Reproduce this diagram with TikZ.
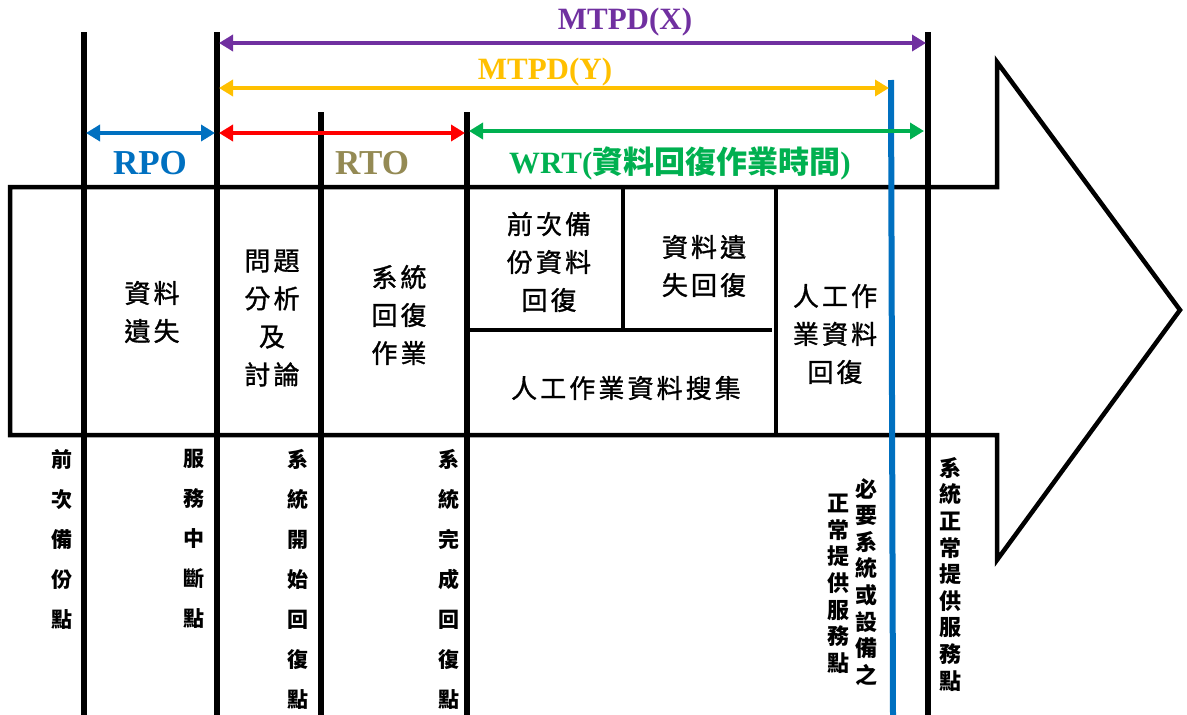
\documentclass[tikz,border=0pt]{standalone}
\usepackage{fontspec}
\setmainfont{Liberation Serif}
\newfontfamily\cjk{Noto Sans CJK TC}
\newfontfamily\cjksp{Noto Sans CJK TC}[LetterSpace=12, FakeBold=1.2]
\usetikzlibrary{arrows.meta}
\definecolor{cpurple}{HTML}{7030A0}
\definecolor{cyellow}{HTML}{FFC000}
\definecolor{cblue}{HTML}{0070C0}
\definecolor{cred}{HTML}{FF0000}
\definecolor{cgreen}{HTML}{00B050}
\definecolor{colive}{HTML}{948A54}
\begin{document}
\begin{tikzpicture}[x=1pt,y=-1pt,
  vline/.style={line width=6pt},
  boxline/.style={line width=4.5pt},
  dim/.style={line width=4.5pt,{Triangle[width=16pt,length=14pt]}-{Triangle[width=16pt,length=14pt]}},
  lbl/.style={font=\fontsize{31}{31}\selectfont\bfseries, inner sep=0},
  intext/.style={font=\fontsize{26}{38}\selectfont\cjksp, align=center, inner sep=0},
  vtext/.style={font=\fontsize{21}{40}\selectfont\cjk\bfseries, align=center, anchor=north, inner sep=0},
  vtextb/.style={font=\fontsize{22}{26.6}\selectfont\cjk\bfseries, align=center, anchor=north, inner sep=0}]
\useasboundingbox (0,0) rectangle (1187,715);
% big arrow
\draw[boxline, fill=white, line join=miter] (10,187) -- (997,187) -- (997,62) -- (1180,310) -- (997,560) -- (997,435) -- (10,435) -- cycle;
% inner separators
\draw[boxline] (467,330) -- (772,330);
\draw[boxline] (623,187) -- (623,330);
\draw[boxline] (776,187) -- (776,435);
% vertical time lines
\coordinate (p1t) at (84,32);   \coordinate (p1b) at (84,715);
\coordinate (p2t) at (217,32);  \coordinate (p2b) at (217,715);
\coordinate (p3t) at (321,112); \coordinate (p3b) at (321,715);
\coordinate (p4t) at (467,112); \coordinate (p4b) at (467,715);
\coordinate (p5t) at (928,32);  \coordinate (p5b) at (928,715);
\coordinate (p6t) at (891,80);  \coordinate (p6b) at (893,715);
\draw[vline] (p1t) -- (p1b);
\draw[vline] (p2t) -- (p2b);
\draw[vline] (p3t) -- (p3b);
\draw[vline] (p4t) -- (p4b);
\draw[vline] (p5t) -- (p5b);
\draw[vline, cblue] (p6t) -- (p6b);
% dimension arrows
\coordinate (xa) at (219,43);  \coordinate (xb) at (926,43);
\coordinate (ya) at (219,88);  \coordinate (yb) at (889,88);
\coordinate (ra) at (86,133);  \coordinate (rb) at (215,133);
\coordinate (ta) at (219,133); \coordinate (tb) at (465,133);
\coordinate (wa) at (469,131); \coordinate (wb) at (924,131);
\draw[dim, cpurple] (xa) -- (xb);
\draw[dim, cyellow] (ya) -- (yb);
\draw[dim, cblue] (ra) -- (rb);
\draw[dim, cred] (ta) -- (tb);
\draw[dim, cgreen] (wa) -- (wb);
% labels
\node[lbl, cpurple] (lx) at (625,22) {MTPD(X)};
\node[lbl, cyellow] (ly) at (545,72) {MTPD(Y)};
\node[lbl, cblue, font=\fontsize{35}{35}\selectfont\bfseries] (lr) at (150,163) {RPO};
\node[lbl, colive, font=\fontsize{35}{35}\selectfont\bfseries] (lt) at (372,163) {RTO};
\node[lbl, cgreen] (lw) at (680,163) {WRT({\cjk\bfseries 資料回復作業時間})};
% box texts
\node[intext] (b1) at (152,312) {資料\\遺失};
\node[intext] (b2) at (272,318) {問題\\分析\\及\\討論};
\node[intext] (b3) at (399,315) {系統\\回復\\作業};
\node[intext] (b4) at (549,262) {前次備\\份資料\\回復};
\node[intext] (b5) at (704,266) {資料遺\\失回復};
\node[intext] (b6) at (626,388) {人工作業資料搜集};
\node[intext] (b7) at (835,334) {人工作\\業資料\\回復};
% bottom vertical texts
\node[vtext] (v1) at (62,449) {前\\次\\備\\份\\點};
\node[vtext] (v2) at (194,449) {服\\務\\中\\斷\\點};
\node[vtext] (v3) at (298,449) {系\\統\\開\\始\\回\\復\\點};
\node[vtext] (v4) at (449,449) {系\\統\\完\\成\\回\\復\\點};
\node[vtextb] (v5) at (866,478) {必\\要\\系\\統\\或\\設\\備\\之};
\node[vtextb] (v6) at (838,494) {正\\常\\提\\供\\服\\務\\點};
\node[vtextb] (v7) at (950,457) {系\\統\\正\\常\\提\\供\\服\\務\\點};
\end{tikzpicture}
\end{document}
